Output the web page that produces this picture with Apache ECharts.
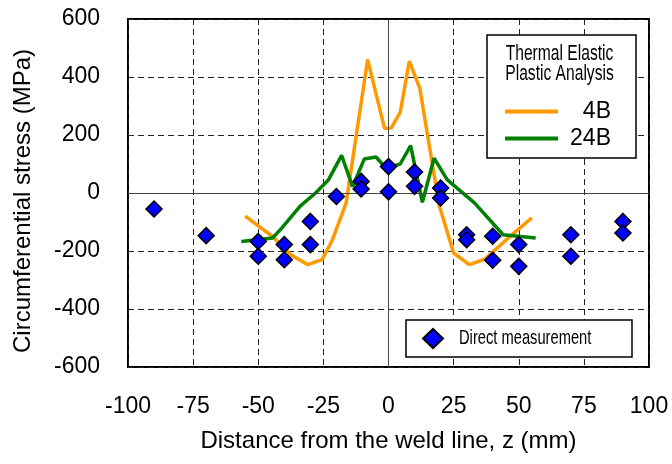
<!DOCTYPE html>
<html>
<head>
<meta charset="utf-8">
<script src="https://cdn.jsdelivr.net/npm/echarts@6/dist/echarts.min.js"></script>
<style>html,body{margin:0;padding:0;background:#fff}#c{width:672px;height:464px}</style>
</head>
<body>
<div id="c"></div>
<script>
// ---- data ----
var xTicks = [-100, -75, -50, -25, 0, 25, 50, 75, 100];
var yTicks = [-600, -400, -200, 0, 200, 400, 600];

var x4B = [-55, -44.5, -37.5, -31, -25.5, -21.5, -16.3, -8, -1.5, 1, 4.5, 8, 12, 19.5, 21.5, 25, 31, 37, 46, 55];
var y4B = [-80, -150, -213, -247, -230, -161, -36, 460, 222, 224, 278, 455, 362, -45, -103, -207, -247, -228, -155, -86];

var x24B = [-56.5, -44.5, -41, -34, -28, -23, -18, -13.8, -9.3, -4.8, -1, 4.5, 8.5, 13, 17.5, 22.5, 33, 44, 56.5];
var y24B = [-167, -155, -121, -46, 0, 46, 130, 22, 117, 124, 86, 100, 163, -32, 120, 46, -34, -144, -155];

var measX = [-90, -70, -50, -50, -40, -40, -30, -30, -20, -10.5, -10.5, 0, 0, 10, 10, 20, 20, 30, 30, 40, 40, 50, 50, 70, 70, 90, 90];
var measY = [-55, -147, -167, -218, -178, -230, -98, -178, -12, 40, 14, 91, 4, 72, 23, 17, -17, -144, -161, -149, -232, -178, -253, -144, -218, -98, -138];

function pairs(xs, ys) { return xs.map(function (x, i) { return [x, ys[i]]; }); }

var FONT = 'Liberation Sans, Arial, sans-serif';
var chart = echarts.init(document.getElementById('c'), null, { renderer: 'canvas' });

chart.setOption({
  animation: false,
  backgroundColor: '#fff',
  textStyle: { fontFamily: FONT },
  grid: { left: 128, right: 23, top: 19, bottom: 97, show: true, borderColor: '#000', borderWidth: 2, backgroundColor: 'transparent' },
  xAxis: {
    type: 'value', min: xTicks[0], max: xTicks[xTicks.length - 1], interval: 25,
    name: 'Distance from the weld line, z (mm)', nameLocation: 'middle', nameGap: 62,
    nameTextStyle: { fontSize: 24, color: '#000', fontFamily: FONT },
    axisLine: { show: false, onZero: false },
    axisTick: { show: false },
    axisLabel: { fontSize: 23, color: '#000', margin: 28, fontFamily: FONT },
    splitLine: { show: true, lineStyle: { color: '#222', width: 1, type: [6, 4] } }
  },
  yAxis: {
    type: 'value', min: yTicks[0], max: yTicks[yTicks.length - 1], interval: 200,
    name: 'Circumferential stress (MPa)', nameLocation: 'middle', nameGap: 93, nameRotate: 90,
    nameTextStyle: { fontSize: 24, color: '#000', fontFamily: FONT, padding: [0, 16, 0, 0] },
    axisLine: { show: false, onZero: false },
    axisTick: { show: false },
    axisLabel: { fontSize: 23, color: '#000', margin: 28, fontFamily: FONT },
    splitLine: { show: true, lineStyle: { color: '#222', width: 1, type: [6, 4] } }
  },
  legend: [
    {
      data: ['4B'], left: 505, top: 100, padding: 0, itemWidth: 53, itemHeight: 4, icon: 'rect', z: 10,
      formatter: '{a|{name}}',
      textStyle: { fontSize: 23, color: '#000', fontFamily: FONT, rich: { a: { fontSize: 23, width: 48, align: 'right', lineHeight: 24, fontFamily: FONT } } }
    },
    {
      data: ['24B'], left: 505, top: 127, padding: 0, itemWidth: 53, itemHeight: 4, icon: 'rect', z: 10,
      formatter: '{a|{name}}',
      textStyle: { fontSize: 23, color: '#000', fontFamily: FONT, rich: { a: { fontSize: 23, width: 48, align: 'right', lineHeight: 24, fontFamily: FONT } } }
    },
    {
      data: ['Direct measurement'], left: 422, top: 328, padding: 0, itemWidth: 20, itemHeight: 19, z: 10,
      formatter: function () { return ''; },
      textStyle: { fontSize: 12, color: '#000' }
    }
  ],
  graphic: [
    { type: 'rect', z: 5, shape: { x: 487, y: 35, width: 149, height: 123 }, style: { fill: '#fff', stroke: '#000', lineWidth: 1.5 } },
    { type: 'rect', z: 5, shape: { x: 406, y: 320, width: 226, height: 37 }, style: { fill: '#fff', stroke: '#000', lineWidth: 1.5 } },
    { type: 'text', z: 10, x: 559.5, y: 53.5, scaleX: 0.71, style: { text: 'Thermal Elastic', font: '22px Liberation Sans', fill: '#000', textAlign: 'center', textVerticalAlign: 'middle' } },
    { type: 'text', z: 10, x: 559.5, y: 74, scaleX: 0.71, style: { text: 'Plastic Analysis', font: '22px Liberation Sans', fill: '#000', textAlign: 'center', textVerticalAlign: 'middle' } },
    { type: 'text', z: 10, x: 459, y: 338, scaleX: 0.7, style: { text: 'Direct measurement', font: '21px Liberation Sans', fill: '#000', textAlign: 'left', textVerticalAlign: 'middle' } }
  ],
  series: [
    {
      name: '4B', type: 'line', data: pairs(x4B, y4B), showSymbol: false, symbol: 'none', z: 3,
      lineStyle: { color: '#ff9900', width: 3.5 }, itemStyle: { color: '#ff9900' },
      markLine: {
        silent: true, symbol: 'none', label: { show: false },
        lineStyle: { color: '#444', width: 1, type: 'solid' },
        data: [{ xAxis: 0 }, { yAxis: 0 }]
      }
    },
    {
      name: '24B', type: 'line', data: pairs(x24B, y24B), showSymbol: false, symbol: 'none', z: 4,
      lineStyle: { color: '#008000', width: 3.5 }, itemStyle: { color: '#008000' }
    },
    {
      name: 'Direct measurement', type: 'scatter', data: pairs(measX, measY), symbol: 'diamond', symbolSize: 16, z: 6,
      itemStyle: { color: '#0000ff', borderColor: '#000', borderWidth: 1.5, opacity: 1 }
    }
  ]
});
</script>
</body>
</html>
